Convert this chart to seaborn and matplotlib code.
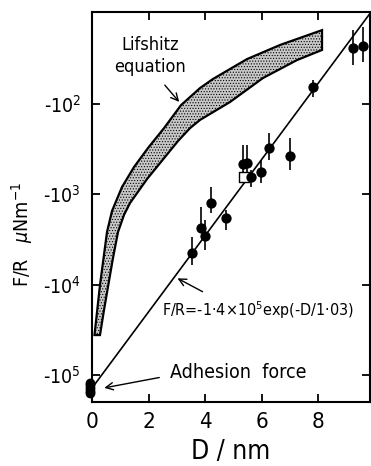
import numpy as np
import pandas as pd
import matplotlib
matplotlib.use("Agg")
import matplotlib.pyplot as plt
from matplotlib.ticker import NullLocator, FixedLocator
import seaborn as sns

# ---------------- data ----------------
# measured points: separation D (nm) and |F/R| (uN/m), with error-bar ends
D_data = [3.53, 3.85, 4.00, 4.21, 4.74, 5.33, 5.47, 5.62, 5.98, 6.27, 7.00, 7.84, 9.23, 9.58]
F_data = [4.44e3, 2.38e3, 2.90e3, 1.24e3, 1.82e3, 466, 447, 649, 571, 305, 377, 65.3, 24.2, 22.6]
F_err_small = [2.95e3, 1.39e3, 1.93e3, 824, 1.49e3, 285, 285, 538, 417, 211, 240, 54.2, 15.2, 13.9]
F_err_large = [6.07e3, 2.69e3, 4.14e3, 1.62e3, 2.48e3, 725, 725, 824, 755, 417, 538, 83.0, 37.0, 34.0]

# open square point
D_square = [5.38]
F_square = [638]

# adhesion force points at contact
D_adh = [-0.08, -0.08, -0.08, -0.08, -0.08]
F_adh = [1.22e5, 1.30e5, 1.40e5, 1.50e5, 1.58e5]

# fitted line F/R = -1.4e5 exp(-D/1.03): end points
fit_D = [0.0, 10.0]
fit_F = [1.4e5, 8.5]

# Lifshitz band: edge with smaller |F| and edge with larger |F|
lif_top_D = [0.088, 0.283, 0.531, 0.708, 1.062, 1.487, 1.982, 2.549, 3.150, 3.823, 4.283, 5.487, 6.655, 8.142]
lif_top_F = [3.62e4, 1.01e4, 2.62e3, 1.53e3, 830, 499, 307, 185, 103, 66.6, 52.8, 31.8, 22.2, 15.2]
lif_bot_D = [0.283, 0.425, 0.577, 0.743, 0.920, 1.133, 1.345, 1.947, 2.584, 3.044, 3.469, 3.823, 4.885, 6.053, 7.257, 8.142]
lif_bot_F = [3.62e4, 1.91e4, 1.01e4, 5.07e3, 2.62e3, 1.69e3, 1.25e3, 678, 386, 257, 185, 150, 95.0, 51.5, 32.6, 25.2]

x_ticks = [0, 2, 4, 6, 8]
y_ticks = [1e2, 1e3, 1e4, 1e5]
y_ticklabels = ["-$10^{2}$", "-$10^{3}$", "-$10^{4}$", "-$10^{5}$"]

# ---------------- style ----------------
sns.set_theme(style="ticks")
plt.rcParams["font.family"] = ["DejaVu Sans"]
plt.rcParams["font.stretch"] = "condensed"
plt.rcParams["mathtext.fontset"] = "dejavusans"
plt.rcParams["hatch.linewidth"] = 0.5
for k in ["text.color", "axes.labelcolor", "xtick.color", "ytick.color", "axes.edgecolor"]:
    plt.rcParams[k] = "black"

fig = plt.figure(figsize=(3.71, 4.66), dpi=100)
ax = fig.add_axes([92 / 371, 64 / 466, 278 / 371, 390 / 466])
ax.set_yscale("log")

# Lifshitz band
band_D = lif_top_D + lif_bot_D[::-1]
band_F = lif_top_F + lif_bot_F[::-1]
ax.fill(band_D, band_F, facecolor="#c8c8c8", edgecolor="black", linewidth=1.6,
        hatch="......", zorder=2)

# fitted line
sns.lineplot(x=fit_D, y=fit_F, ax=ax, color="black", linewidth=1.2, zorder=3)

# error bars + points
ax.vlines(D_data, F_err_small, F_err_large, color="black", linewidth=1.2, zorder=3)
sns.scatterplot(x=D_data, y=F_data, ax=ax, color="black", s=55, linewidth=0, zorder=4)
sns.scatterplot(x=D_square, y=F_square, ax=ax, marker="s", s=45, facecolor="white",
                edgecolor="black", linewidth=1.0, zorder=3.5)
sns.scatterplot(x=D_adh, y=F_adh, ax=ax, color="black", s=50, linewidth=0,
                zorder=5, clip_on=False)

ax.set_xlim(0, 9.84)
ax.set_ylim(10 ** 5.30, 10 ** 0.981)

ax.xaxis.set_major_locator(FixedLocator(x_ticks))
ax.set_xticklabels([str(t) for t in x_ticks])
ax.yaxis.set_major_locator(FixedLocator(y_ticks))
ax.yaxis.set_minor_locator(NullLocator())
ax.set_yticklabels(y_ticklabels)

ax.tick_params(which="major", direction="in", length=6, width=1.3,
               top=True, right=True, color="black", labelcolor="black")
ax.tick_params(axis="x", labelsize=16, pad=7)
ax.tick_params(axis="y", labelsize=14, pad=8)
for sp in ax.spines.values():
    sp.set_linewidth(1.5)
    sp.set_color("black")

ax.set_xlabel("D / nm", fontsize=19, labelpad=5)
ax.set_ylabel(r"F/R   $\mu\mathrm{Nm}^{-1}$", fontsize=14)
ax.yaxis.set_label_coords(-0.205, 0.43)

arrow = dict(arrowstyle="->", color="black", linewidth=1.0, mutation_scale=13)
ax.annotate("Lifshitz\nequation", xy=(3.15, 100), xycoords="data",
            xytext=(150 / 371, 1 - 56 / 466), textcoords="figure fraction",
            ha="center", va="center", fontsize=13, linespacing=1.3)
ax.annotate("", xy=(3.15, 100), xycoords="data",
            xytext=(163 / 371, 1 - 83 / 466), textcoords="figure fraction",
            arrowprops=arrow)

ax.text(258 / 371, 1 - 310 / 466, r"F/R=-1·4×$10^{5}$exp(-D/1·03)",
        transform=fig.transFigure, ha="center", va="center", fontsize=11.5)
ax.annotate("", xy=(2.94, 8.24e3), xycoords="data",
            xytext=(205 / 371, 1 - 293 / 466), textcoords="figure fraction",
            arrowprops=arrow)

ax.text(238 / 371, 1 - 373 / 466, "Adhesion  force",
        transform=fig.transFigure, ha="center", va="center", fontsize=14)
ax.annotate("", xy=(0.34, 1.41e5), xycoords="data",
            xytext=(162 / 371, 1 - 377 / 466), textcoords="figure fraction",
            arrowprops=arrow)

fig.savefig("out.png", dpi=100)
